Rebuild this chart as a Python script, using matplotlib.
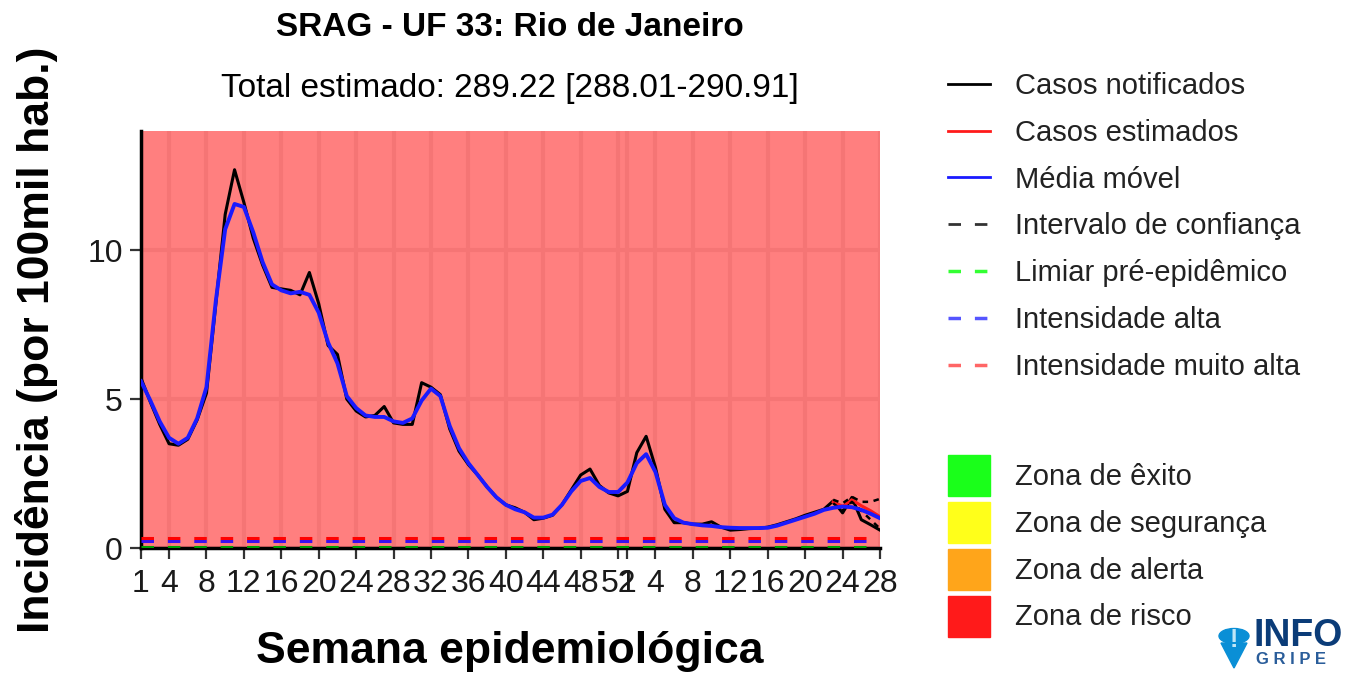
import matplotlib
matplotlib.use("Agg")
import matplotlib.pyplot as plt
from matplotlib.lines import Line2D
from matplotlib.patches import Patch, Circle, Polygon

plt.rcParams['font.family'] = ['Liberation Sans', 'DejaVu Sans']
plt.rcParams['lines.scale_dashes'] = False

# epidemiological weeks: 52 weeks of year 1, then weeks 1..28 of year 2
year1_weeks = list(range(1, 53))
year2_weeks = list(range(1, 29))
week_idx = list(range(1, len(year1_weeks) + len(year2_weeks) + 1))

tick_weeks_y1 = [1, 4, 8, 12, 16, 20, 24, 28, 32, 36, 40, 44, 48, 52]
tick_weeks_y2 = [1, 4, 8, 12, 16, 20, 24, 28]

# incidence per 100k inhabitants
casos_notificados = [
    5.7, 4.9, 4.15, 3.5, 3.45, 3.65, 4.3, 5.2, 8.2, 11.2,
    12.7, 11.6, 10.4, 9.5, 8.75, 8.7, 8.65, 8.5, 9.25, 8.2,
    6.8, 6.5, 5.0, 4.6, 4.4, 4.45, 4.75, 4.2, 4.15, 4.15,
    5.55, 5.4, 5.15, 4.0, 3.25, 2.8, 2.45, 2.05, 1.7, 1.45,
    1.35, 1.2, 0.95, 1.0, 1.1, 1.45, 1.95, 2.45, 2.65, 2.1,
    1.85, 1.75, 1.9, 3.2, 3.75, 2.7, 1.3, 0.85, 0.85, 0.8,
    0.8, 0.88, 0.7, 0.6, 0.62, 0.65, 0.66, 0.7, 0.78, 0.88,
    0.98, 1.1, 1.2, 1.3, 1.58, 1.18, 1.7, 0.95, 0.78, 0.6,
]
media_movel = [
    5.6, 4.95, 4.25, 3.7, 3.5, 3.7, 4.35, 5.4, 8.3, 10.7,
    11.55, 11.45, 10.6, 9.6, 8.85, 8.65, 8.55, 8.6, 8.5, 7.9,
    6.9, 6.2, 5.1, 4.7, 4.45, 4.4, 4.4, 4.25, 4.2, 4.35,
    4.95, 5.35, 5.1, 4.1, 3.35, 2.85, 2.45, 2.05, 1.7, 1.45,
    1.3, 1.2, 1.02, 1.02, 1.12, 1.45, 1.9, 2.25, 2.35, 2.05,
    1.88, 1.88, 2.2, 2.85, 3.15, 2.55, 1.45, 1.0, 0.85, 0.8,
    0.76, 0.74, 0.7, 0.68, 0.67, 0.67, 0.67, 0.68, 0.75, 0.85,
    0.95, 1.05, 1.15, 1.28, 1.35, 1.39, 1.37, 1.28, 1.15, 1.0,
]
est_idx = [75, 76, 77, 78, 79, 80]
casos_estimados = [1.55, 1.4, 1.62, 1.42, 1.25, 1.05]
ic_superior = [1.62, 1.5, 1.72, 1.55, 1.55, 1.65]
ic_inferior = [1.5, 1.25, 1.55, 1.25, 0.95, 0.65]

limiar_pre = 0.05
intens_alta = 0.22
intens_muito_alta = 0.34
y_top = 14.0

fig = plt.figure(figsize=(13.56, 6.77), dpi=100)
W, H = 1356, 677
ax = fig.add_axes([141 / W, 1 - 548 / H, 739 / W, 417 / H])
ax.set_xlim(1, 80)
ax.set_ylim(0, y_top)

# faint grid beneath the zone fill
ax.set_axisbelow(True)
ax.grid(True, color='#ececec', linewidth=3)

ax.axhspan(0, limiar_pre, color='#00ff00', alpha=0.3, lw=0)
ax.axhspan(limiar_pre, y_top, color='#ff0000', alpha=0.5, lw=0)

dash = (0, (9, 10))
ax.axhline(limiar_pre, color='#00a000', lw=2.2, ls=dash, zorder=3)
ax.axhline(intens_alta, color='#3a10f0', lw=2.2, ls=dash, zorder=3)
ax.axhline(intens_muito_alta, color='#ff0000', lw=2.2, ls=dash, zorder=3)

ax.plot(week_idx, casos_notificados, color='black', lw=2.2, zorder=4)
ax.plot(est_idx, casos_estimados, color='#ff1a1a', lw=2.2, zorder=5)
ax.plot(est_idx, ic_superior, color='black', lw=1.8, ls=(0, (4, 4)), zorder=5)
ax.plot(est_idx, ic_inferior, color='black', lw=1.8, ls=(0, (4, 4)), zorder=5)
ax.plot(week_idx, media_movel, color='#1a1aff', lw=2.8, zorder=6)

# ticks
tick_pos = [w for w in tick_weeks_y1] + [len(year1_weeks) + w for w in tick_weeks_y2]
tick_lab = [str(w) for w in tick_weeks_y1] + [str(w) for w in tick_weeks_y2]
ax.set_xticks(tick_pos)
ax.set_xticklabels(tick_lab)
ax.set_yticks([0, 5, 10])
ax.tick_params(axis='both', length=8, width=1.6, color='#333333',
               labelsize=23, labelcolor='#1a1a1a')
ax.tick_params(axis='x', pad=7)
ax.tick_params(axis='y', pad=5)

for s in ['top', 'right']:
    ax.spines[s].set_visible(False)
for s in ['left', 'bottom']:
    ax.spines[s].set_linewidth(2.5)
    ax.spines[s].set_color('black')

cx = (140 + 880) / 2 / W
fig.text(cx, 1 - 652 / H, 'Semana epidemiológica', ha='center', va='center',
         fontsize=32, fontweight='bold')
fig.text(37 / W, 1 - 340 / H, 'Incidência (por 100mil hab.)', ha='center',
         va='center', rotation=90, fontsize=32, fontweight='bold')

fig.text(cx, 1 - 28 / H, 'SRAG - UF 33: Rio de Janeiro', ha='center', va='center',
         fontsize=24, fontweight='bold')
fig.text(cx, 1 - 88 / H, 'Total estimado: 289.22 [288.01-290.91]', ha='center',
         va='center', fontsize=24)

# legends
line_handles = [
    Line2D([], [], color='black', lw=2),
    Line2D([], [], color='#ff1a1a', lw=2),
    Line2D([], [], color='#1a1aff', lw=2),
    Line2D([], [], color='#333333', lw=2, ls=(0, (9, 10))),
    Line2D([], [], color='#33ff33', lw=2.5, ls=(0, (9, 10))),
    Line2D([], [], color='#5555ff', lw=2.5, ls=(0, (9, 10))),
    Line2D([], [], color='#ff6666', lw=2.5, ls=(0, (9, 10))),
]
line_labels = ['Casos notificados', 'Casos estimados', 'Média móvel',
               'Intervalo de confiança', 'Limiar pré-epidêmico',
               'Intensidade alta', 'Intensidade muito alta']
leg1 = fig.legend(line_handles, line_labels, loc='upper left',
                  bbox_to_anchor=(948 / W, 1 - 72 / H), frameon=False,
                  fontsize=21, handlelength=1.44, handletextpad=0.86,
                  labelspacing=0.645, borderpad=0, borderaxespad=0,
                  labelcolor='#222222')

zone_handles = [Patch(color='#1aff1a'), Patch(color='#ffff1a'),
                Patch(color='#ffa51a'), Patch(color='#ff1a1a')]
zone_labels = ['Zona de êxito', 'Zona de segurança', 'Zona de alerta', 'Zona de risco']
leg2 = fig.legend(zone_handles, zone_labels, loc='upper left',
                  bbox_to_anchor=(948 / W, 1 - 455 / H), frameon=False,
                  fontsize=21, handlelength=1.44, handleheight=1.78,
                  handletextpad=0.86, labelspacing=0.205, borderpad=0,
                  borderaxespad=0, labelcolor='#222222')

# InfoGripe logo
pin_col = '#0a8fd6'
fig.add_artist(Circle((1234 / W, 1 - 636 / H), 15 / W, color=pin_col,
                      transform=fig.transFigure))
fig.add_artist(Polygon([(1221 / W, 1 - 643 / H), (1247 / W, 1 - 643 / H),
                        (1234 / W, 1 - 668 / H)], closed=True, color=pin_col,
                       transform=fig.transFigure))
fig.text(1234 / W, 1 - 640 / H, '!', ha='center', va='center', fontsize=18,
         fontweight='bold', color='#bfe6f7')
fig.text(1253 / W, 1 - 636 / H, 'INFO', ha='left', va='center', fontsize=27,
         fontweight='bold', color='#0b3c78')
fig.text(1256 / W, 1 - 660 / H, 'G R I P E', ha='left', va='center', fontsize=12,
         fontweight='bold', color='#2a5d9a')

fig.savefig('out.png', dpi=100)
